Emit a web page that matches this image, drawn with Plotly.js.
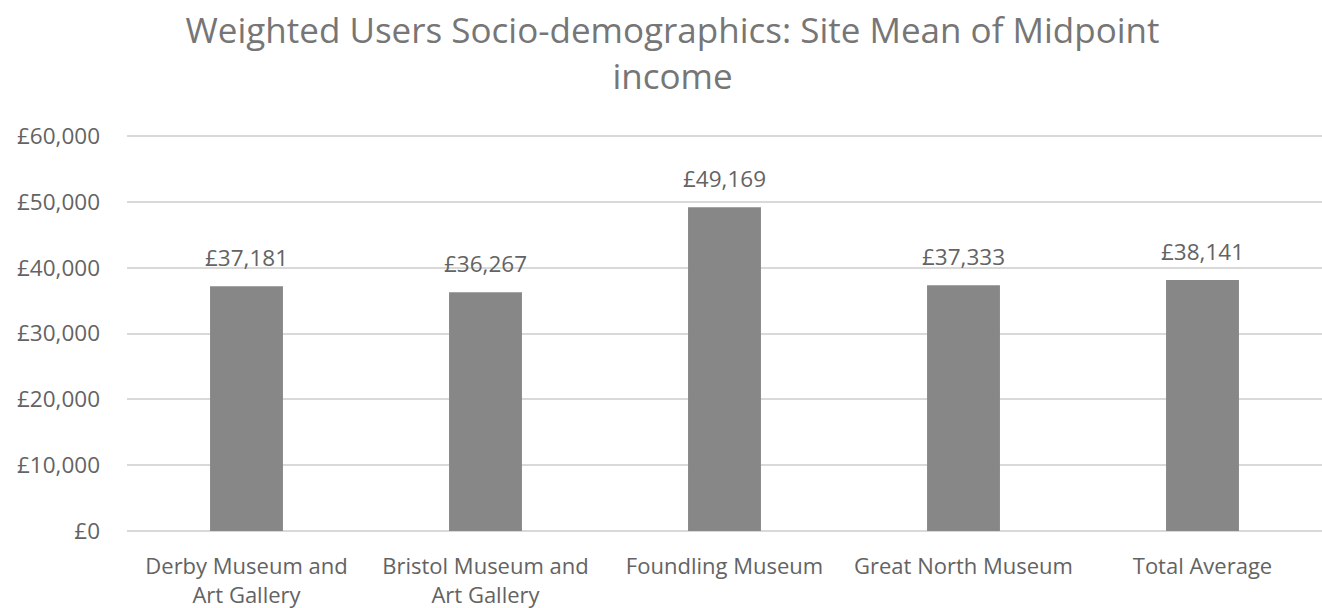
<!DOCTYPE html>
<html>
<head>
<meta charset="utf-8">
<script src="https://cdn.plot.ly/plotly-3.0.1.min.js"></script>
<style>html,body{margin:0;padding:0;background:#fff;}#chart{width:1322px;height:608px;}</style>
</head>
<body>
<div id="chart"></div>
<script>
const categories = ["Derby Museum and<br>Art Gallery", "Bristol Museum and<br>Art Gallery", "Foundling Museum", "Great North Museum", "Total Average"];
const values = [37181, 36267, 49169, 37333, 38141];
const valueLabels = ["£37,181", "£36,267", "£49,169", "£37,333", "£38,141"];
const yTickVals = [0, 10000, 20000, 30000, 40000, 50000, 60000];
const yTickText = ["£0", "£10,000", "£20,000", "£30,000", "£40,000", "£50,000", "£60,000"];
const titleText = "Weighted Users Socio-demographics: Site Mean of Midpoint<br>income";

const FONT = "'Open Sans', sans-serif";
const LABEL = '#636363';
const xIdx = categories.map((c, i) => i);

const trace = {
  type: 'bar',
  x: xIdx,
  y: values,
  width: 0.305,
  marker: {color: '#878787'},
  hoverinfo: 'none'
};

const annotations = values.map((v, i) => ({
  x: i, y: v, xref: 'x', yref: 'y',
  text: valueLabels[i], showarrow: false,
  yanchor: 'bottom', yshift: 11,
  font: {family: FONT, size: 22.5, color: LABEL}
}));

const layout = {
  width: 1322, height: 608,
  paper_bgcolor: '#ffffff', plot_bgcolor: '#ffffff',
  margin: {l: 127, r: 0, t: 133, b: 74},
  showlegend: false,
  title: {
    text: titleText,
    x: 0.5087, xanchor: 'center', xref: 'container',
    y: 0.929, yanchor: 'top', yref: 'container',
    font: {family: FONT, size: 35, color: '#767676'}
  },
  xaxis: {
    type: 'linear',
    range: [-0.5, 4.5],
    tickmode: 'array', tickvals: xIdx, ticktext: categories,
    showgrid: false, zeroline: false, showline: false,
    ticks: '', ticklabelstandoff: 17,
    tickfont: {family: FONT, size: 22, color: LABEL}
  },
  yaxis: {
    range: [-455.7, 60455.7],
    tickmode: 'array', tickvals: yTickVals, ticktext: yTickText,
    showgrid: true, gridcolor: '#d9d9d9', gridwidth: 2,
    zeroline: false, showline: false,
    ticks: '', ticklabelstandoff: 26,
    tickfont: {family: FONT, size: 22.5, color: LABEL}
  },
  annotations: annotations
};

Plotly.newPlot('chart', [trace], layout, {displayModeBar: false, staticPlot: true});
</script>
</body>
</html>
